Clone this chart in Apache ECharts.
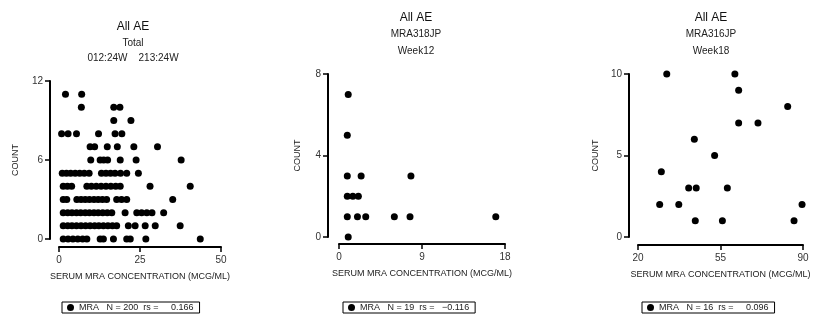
<!DOCTYPE html>
<html>
<head>
<meta charset="utf-8">
<script src="https://cdn.jsdelivr.net/npm/echarts@6/dist/echarts.min.js"></script>
<style>
  html, body { margin: 0; padding: 0; background: #fff; }
  #main { width: 822px; height: 317px; }
</style>
</head>
<body>
<div id="main"></div>
<script>
// panel 1 (Total): concentrations listed per count row, index = count
const totalRows = [
  [1.3, 2.8, 4.3, 5.8, 7.3, 8.6, 12.7, 13.7, 16.8, 20.9, 22.0, 26.8, 43.6],
  [1.3, 2.7, 4.0, 5.4, 6.8, 8.2, 9.6, 11.0, 12.3, 13.7, 15.1, 16.5, 17.8, 21.4, 23.5, 26.6, 29.7, 37.4],
  [1.3, 2.7, 4.0, 5.4, 6.7, 8.1, 9.4, 10.8, 12.1, 13.5, 14.9, 16.3, 20.4, 24.0, 25.5, 27.1, 28.7, 32.3],
  [1.3, 2.4, 5.5, 6.8, 8.1, 9.4, 10.8, 12.1, 13.4, 14.7, 17.8, 19.3, 20.9, 35.1],
  [1.3, 2.6, 3.9, 8.6, 10.0, 11.5, 13.0, 14.5, 16.0, 17.5, 18.9, 28.1, 40.5],
  [1.0, 2.3, 3.6, 5.0, 6.4, 7.8, 9.3, 13.1, 14.5, 15.9, 17.3, 19.0, 20.9, 24.5],
  [9.8, 12.7, 13.8, 15.0, 18.9, 23.8, 37.7],
  [9.6, 11.0, 14.9, 18.0, 23.1, 30.4],
  [0.8, 2.8, 5.4, 12.2, 17.3, 19.4],
  [16.9, 22.2],
  [6.9, 16.9, 18.8],
  [2.0, 7.0]
]

// panel 2 (MRA318JP Week12)
const week12Conc  = [1.0, 0.9, 0.9, 2.4, 7.8, 0.9, 1.5, 2.1, 0.9, 2.0, 2.9, 6.0, 7.7, 17.0, 1.0]
const week12Count = [7, 5, 3, 3, 3, 2, 2, 2, 1, 1, 1, 1, 1, 1, 0]

// panel 3 (MRA316JP Week18)
const week18Conc  = [32.2, 61.1, 62.7, 83.5, 62.7, 70.9, 43.9, 52.5, 29.9, 41.5, 44.7, 57.9, 29.2, 37.3, 89.6, 44.3, 55.8, 86.2]
const week18Count = [10, 10, 9, 8, 7, 7, 6, 5, 4, 3, 3, 3, 2, 2, 2, 1, 1, 1]

const titleLines = [
  ['All AE', 'Total\n012:24W    213:24W'],
  ['All AE', 'MRA318JP\nWeek12'],
  ['All AE', 'MRA316JP\nWeek18']
]
const nValues  = [200, 19, 16]
const rsValues = ['    0.166', '  \u22120.116', '    0.096']

const xTicks = [[0, 25, 50], [0, 9, 18], [20, 55, 90]]
const yTicks = [[0, 6, 12], [0, 4, 8], [0, 5, 10]]
const xName = 'SERUM MRA CONCENTRATION (MCG/ML)'
const yName = 'COUNT'

const totalData  = totalRows.flatMap((xs, count) => xs.map(x => [x, count]))
const week12Data = week12Conc.map((x, i) => [x, week12Count[i]])
const week18Data = week18Conc.map((x, i) => [x, week18Count[i]])
const seriesData = [totalData, week12Data, week18Data]

const font = 'Liberation Sans'
const grids = [
  { left: 59,  top: 81, width: 162, height: 158 },
  { left: 339, top: 74, width: 166, height: 163 },
  { left: 638, top: 74, width: 165, height: 163 }
]
const titlePos = [
  { left: 133, top: 20, itemGap: 1.5, lh: 15 },
  { left: 416, top: 11, itemGap: 1,   lh: 16.5 },
  { left: 711, top: 11, itemGap: 1,   lh: 17 }
]
const yOffsets = [9, 11, 9]
const yNameGaps = [30, 26, 29]
const legendLeft = [62, 343, 642]

const axisCommon = {
  splitLine: { show: false },
  axisLine: { onZero: false, lineStyle: { color: '#000', width: 2 } },
  axisTick: { length: 5, lineStyle: { color: '#000', width: 1.5 } },
  nameTextStyle: { color: '#222', fontSize: 9, fontFamily: font }
}

const chart = echarts.init(document.getElementById('main'), null, { renderer: 'canvas' })

chart.setOption({
  animation: false,
  textStyle: { fontFamily: font },
  title: titleLines.map((t, i) => ({
    text: t[0],
    subtext: t[1],
    left: titlePos[i].left,
    top: titlePos[i].top,
    textAlign: 'center',
    padding: 0,
    itemGap: titlePos[i].itemGap,
    textStyle: { color: '#111', fontSize: 12, fontWeight: 'normal', lineHeight: 14, fontFamily: font },
    subtextStyle: { color: '#222', fontSize: 10, lineHeight: titlePos[i].lh, fontFamily: font }
  })),
  grid: grids.map(g => Object.assign({ outerBoundsMode: 'none' }, g)),
  xAxis: xTicks.map((ticks, i) => Object.assign({}, axisCommon, {
    type: 'value',
    gridIndex: i,
    min: ticks[0],
    max: ticks[2],
    offset: i === 1 ? 7 : 8,
    name: xName,
    nameLocation: 'middle',
    nameGap: 25,
    axisTick: Object.assign({}, axisCommon.axisTick, { customValues: ticks }),
    axisLabel: { color: '#333', fontSize: 10, margin: 8, customValues: ticks }
  })),
  yAxis: yTicks.map((ticks, i) => Object.assign({}, axisCommon, {
    type: 'value',
    gridIndex: i,
    min: ticks[0],
    max: ticks[2],
    offset: yOffsets[i],
    name: yName,
    nameLocation: 'middle',
    nameGap: yNameGaps[i],
    axisTick: Object.assign({}, axisCommon.axisTick, { customValues: ticks }),
    axisLabel: { color: '#333', fontSize: 10, margin: 7, customValues: ticks }
  })),
  legend: nValues.map((n, i) => ({
    data: ['MRA'],
    left: legendLeft[i],
    top: 302,
    icon: 'circle',
    itemWidth: 7,
    itemHeight: 7,
    padding: [1, 6, 1, 5],
    borderColor: '#000',
    borderWidth: 1,
    selectedMode: false,
    itemStyle: { color: '#000', opacity: 1 },
    textStyle: { color: '#222', fontSize: 9, fontFamily: font },
    formatter: name => `${name}   N = ${n}  rs = ${rsValues[i]}`
  })),
  series: seriesData.map((data, i) => ({
    name: 'MRA',
    type: 'scatter',
    xAxisIndex: i,
    yAxisIndex: i,
    data: data,
    symbol: 'circle',
    symbolSize: 7,
    itemStyle: { color: '#000', opacity: 1 },
    emphasis: { disabled: true }
  }))
})
</script>
</body>
</html>
